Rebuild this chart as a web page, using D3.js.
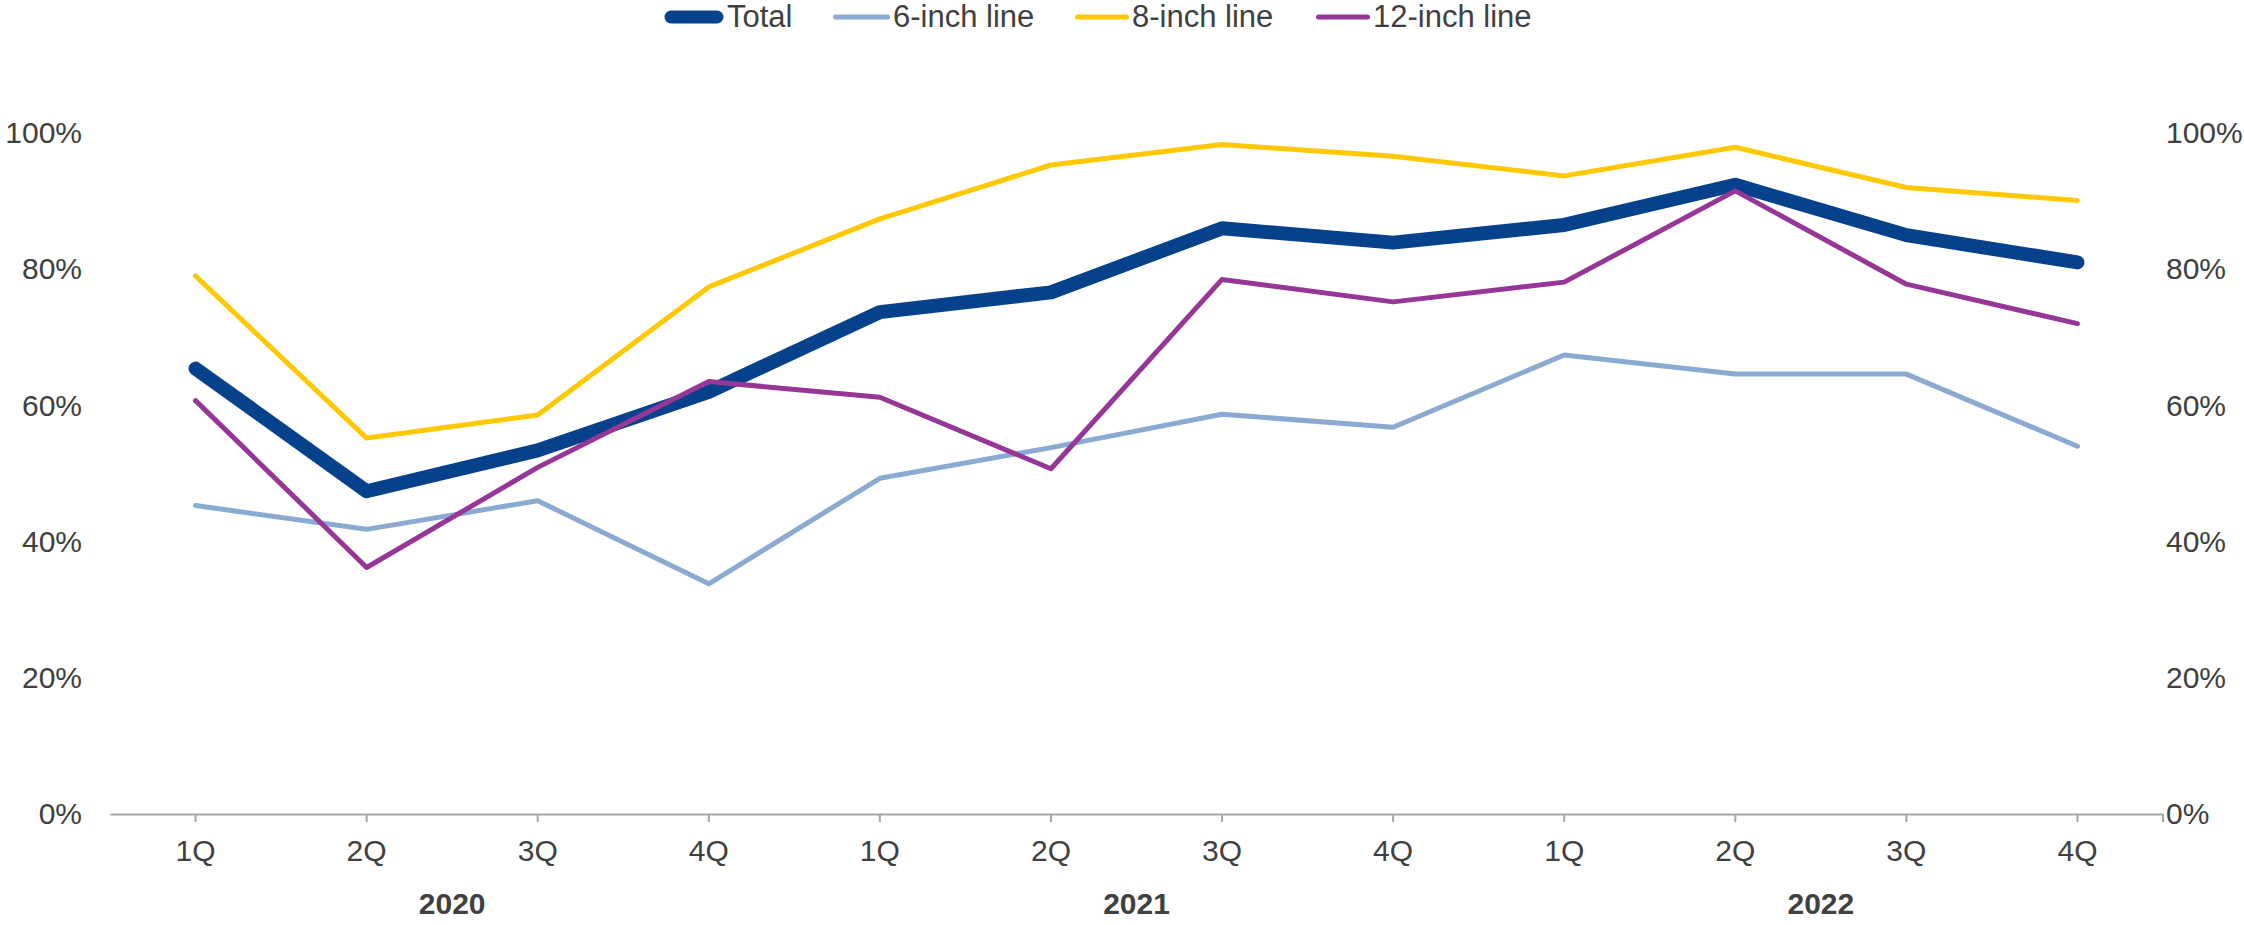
<!DOCTYPE html>
<html>
<head>
<meta charset="utf-8">
<script src="https://cdn.jsdelivr.net/npm/d3@7"></script>
<style>
  body { margin: 0; background: #fff; }
  svg text { font-family: "Liberation Sans", Arial, sans-serif; fill: #404040; }
</style>
</head>
<body>
<svg id="chart" width="2244" height="925"></svg>
<script>
// data
var quarters = ["1Q", "2Q", "3Q", "4Q", "1Q", "2Q", "3Q", "4Q", "1Q", "2Q", "3Q", "4Q"];
var years = ["2020", "2021", "2022"];
var total = [0.654, 0.474, 0.534, 0.620, 0.737, 0.766, 0.860, 0.839, 0.865, 0.924, 0.850, 0.810];
var inch6 = [0.453, 0.418, 0.460, 0.338, 0.493, 0.538, 0.587, 0.568, 0.674, 0.646, 0.646, 0.540];
var inch8 = [0.790, 0.552, 0.586, 0.774, 0.874, 0.953, 0.983, 0.966, 0.937, 0.979, 0.920, 0.901];
var inch12 = [0.607, 0.362, 0.509, 0.635, 0.612, 0.507, 0.785, 0.752, 0.781, 0.915, 0.778, 0.720];
var yTicks = [0, 0.2, 0.4, 0.6, 0.8, 1];

var series = [
    {name: "Total", values: total, color: "#06428b", width: 14},
    {name: "6-inch line", values: inch6, color: "#8aaad2", width: 5},
    {name: "8-inch line", values: inch8, color: "#ffc800", width: 5},
    {name: "12-inch line", values: inch12, color: "#963696", width: 5}
];

var svg = d3.select("#chart");

var x = d3.scaleBand()
    .domain(d3.range(quarters.length))
    .range([110, 2163])
    .paddingInner(0)
    .paddingOuter(0);

var y = d3.scaleLinear()
    .domain([0, 1])
    .range([814, 133]);

var cx = function (i) { return x(i) + x.bandwidth() / 2; };

// x axis
var gx = svg.append("g")
    .attr("transform", "translate(0," + y(0) + ")")
    .call(d3.axisBottom(x)
        .tickSize(8)
        .tickSizeOuter(0)
        .tickPadding(0)
        .tickFormat(function (i) { return quarters[i]; }));
gx.select(".domain").attr("stroke", "#a6a6a6").attr("stroke-width", 2);
gx.selectAll(".tick line").attr("stroke", "#a6a6a6").attr("stroke-width", 2);
gx.selectAll(".tick text")
    .attr("y", 47)
    .attr("dy", null)
    .style("font-size", "30px");

// small closing tick at right end
gx.append("line")
    .attr("x1", x.range()[1]).attr("x2", x.range()[1])
    .attr("y1", 0).attr("y2", 8)
    .attr("stroke", "#a6a6a6").attr("stroke-width", 2);

// year labels
svg.append("g").selectAll("text")
    .data(years)
    .enter()
    .append("text")
    .attr("x", function (d, k) { return (cx(k * 4) + cx(k * 4 + 3)) / 2; })
    .attr("y", 914)
    .attr("text-anchor", "middle")
    .style("font-size", "30px")
    .style("font-weight", "bold")
    .text(function (d) { return d; });

// y axes (left and right)
var pct = d3.format(".0%");
var gl = svg.append("g")
    .attr("transform", "translate(82,0)")
    .call(d3.axisLeft(y).tickValues(yTicks).tickFormat(pct).tickSize(0).tickPadding(0));
var gr = svg.append("g")
    .attr("transform", "translate(2166,0)")
    .call(d3.axisRight(y).tickValues(yTicks).tickFormat(pct).tickSize(0).tickPadding(0));
[gl, gr].forEach(function (g) {
    g.select(".domain").remove();
    g.selectAll("text").style("font-size", "30px");
});

// lines
var line = d3.line()
    .x(function (d, i) { return cx(i); })
    .y(function (d) { return y(d); });

svg.append("g").selectAll("path")
    .data(series)
    .enter()
    .append("path")
    .attr("d", function (s) { return line(s.values); })
    .attr("fill", "none")
    .attr("stroke", function (s) { return s.color; })
    .attr("stroke-width", function (s) { return s.width; })
    .attr("stroke-linecap", "round")
    .attr("stroke-linejoin", "round");

// legend
var legendX = [664, 833, 1075, 1316];
var legendLen = [60, 57, 54, 54];
var lg = svg.append("g").selectAll("g")
    .data(series)
    .enter()
    .append("g")
    .attr("transform", function (s, k) { return "translate(" + legendX[k] + ",17)"; });
lg.append("line")
    .attr("x1", function (s) { return s.width / 2; })
    .attr("x2", function (s, k) { return legendLen[k] - s.width / 2; })
    .attr("stroke", function (s) { return s.color; })
    .attr("stroke-width", function (s) { return s.width === 14 ? 13 : 5; })
    .attr("stroke-linecap", "round");
lg.append("text")
    .attr("x", function (s, k) { return legendLen[k] + 3; })
    .attr("y", 10)
    .style("font-size", "31px")
    .text(function (s) { return s.name; });
</script>
</body>
</html>
